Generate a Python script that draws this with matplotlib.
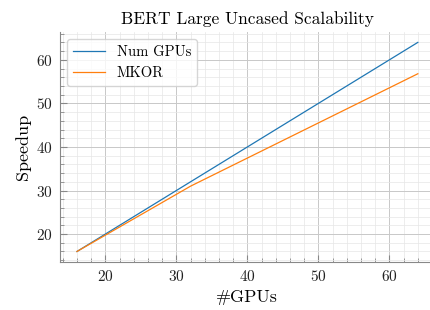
import matplotlib
matplotlib.use('Agg')
import matplotlib.pyplot as plt
from matplotlib.ticker import MultipleLocator

# Data
gpus = [16, 32, 64]
ideal = [16, 32, 64]
mkor = [16, 31.0, 56.8]

plt.rcParams['font.family'] = 'serif'
plt.rcParams['font.serif'] = ['cmr10', 'DejaVu Serif']
plt.rcParams['mathtext.fontset'] = 'cm'
plt.rcParams['axes.formatter.use_mathtext'] = True

fig = plt.figure(figsize=(4.31, 3.10), dpi=100)
ax = fig.add_axes([0.139, 0.155, 0.87, 0.742])

ax.plot(gpus, ideal, color='#1f77b4', lw=0.9, label='Num GPUs')
ax.plot(gpus, mkor, color='#ff7f0e', lw=0.9, label='MKOR')

ax.set_title('BERT Large Uncased Scalability', fontsize=12.5)
ax.set_xlabel('#GPUs', fontsize=13)
ax.set_ylabel('Speedup', fontsize=13)

ax.xaxis.set_major_locator(MultipleLocator(10))
ax.xaxis.set_minor_locator(MultipleLocator(2))
ax.yaxis.set_major_locator(MultipleLocator(10))
ax.yaxis.set_minor_locator(MultipleLocator(2))
ax.grid(which='major', color='#c8c8c8', lw=0.7)
ax.grid(which='minor', color='#e6e6e6', lw=0.5)
ax.set_axisbelow(True)

for s in ['top', 'right']:
    ax.spines[s].set_visible(False)
for s in ['left', 'bottom']:
    ax.spines[s].set_color('#888888')
ax.tick_params(which='both', direction='in', colors='#888888', labelcolor='#222222', labelsize=11)
ax.tick_params(which='major', length=5, pad=5)
ax.tick_params(which='minor', length=3)

ax.legend(loc='upper left', fontsize=10.5, frameon=True, edgecolor='#cccccc', fancybox=True,
          handlelength=2.2)

plt.savefig('out.png', dpi=100)
